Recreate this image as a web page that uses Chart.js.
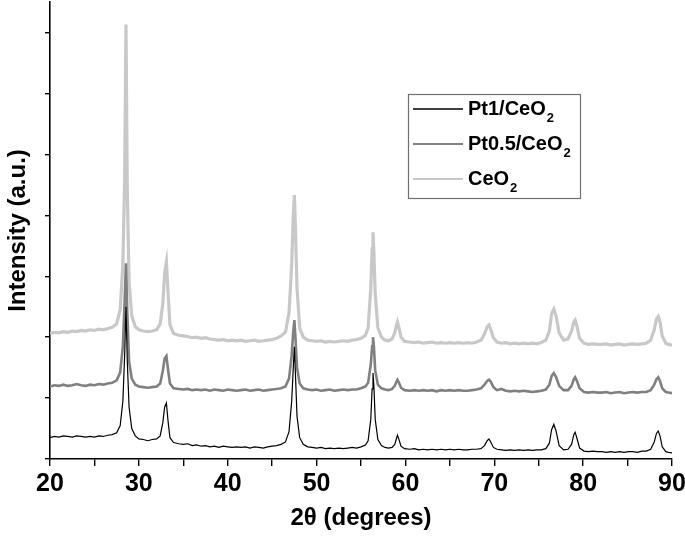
<!DOCTYPE html>
<html>
<head>
<meta charset="utf-8">
<script src="https://cdn.jsdelivr.net/npm/chart.js@4.4.1/dist/chart.umd.min.js"></script>
<style>
  html, body { margin: 0; padding: 0; background: #ffffff; }
  #wrap { width: 685px; height: 537px; position: relative; }
</style>
</head>
<body>
<div id="wrap"><canvas id="c" width="685" height="537"></canvas></div>
<script>
// 2-theta angles (degrees), shared by all three patterns
const angles = [
  20, 20.5, 21, 21.5, 22, 22.5, 23, 23.5, 24, 24.5,
  25, 25.5, 26, 26.5, 27, 27.5, 27.9, 28.2, 28.4, 28.55,
  28.7, 28.9, 29.2, 29.6, 30, 30.5, 31, 31.5, 32, 32.4,
  32.7, 32.9, 33.1, 33.3, 33.5, 33.9, 34.5, 35, 35.5, 36,
  36.5, 37, 37.5, 38, 38.5, 39, 39.5, 40, 40.5, 41,
  41.5, 42, 42.5, 43, 43.5, 44, 44.5, 45, 45.5, 46,
  46.5, 46.9, 47.2, 47.38, 47.5, 47.62, 47.8, 48.1, 48.5, 49,
  49.5, 50, 50.5, 51, 51.5, 52, 52.5, 53, 53.5, 54,
  54.5, 55, 55.5, 55.8, 56.1, 56.25, 56.35, 56.45, 56.6, 56.9,
  57.3, 57.7, 58.1, 58.5, 58.8, 59.0, 59.1, 59.25, 59.5, 59.9,
  60.5, 61, 61.5, 62, 62.5, 63, 63.5, 64, 64.5, 65,
  65.5, 66, 66.5, 67, 67.5, 68, 68.5, 68.9, 69.2, 69.4,
  69.6, 69.9, 70.3, 70.8, 71.3, 71.8, 72.3, 72.8, 73.3, 73.8,
  74.3, 74.8, 75.3, 75.8, 76.2, 76.45, 76.7, 76.95, 77.3, 77.8,
  78.3, 78.7, 78.95, 79.1, 79.3, 79.6, 80.1, 80.6, 81.1, 81.6,
  82.1, 82.6, 83.1, 83.6, 84.1, 84.6, 85.1, 85.6, 86.1, 86.6,
  87.1, 87.6, 88.0, 88.25, 88.45, 88.65, 88.9, 89.3, 89.6, 90
];

// Pt1/CeO2 (black)
const pt1 = [
  0.35, 0.37, 0.36, 0.38, 0.37, 0.36, 0.38, 0.37, 0.36, 0.37,
  0.36, 0.38, 0.37, 0.39, 0.40, 0.43, 0.55, 0.95, 1.70, 2.50,
  1.60, 0.85, 0.50, 0.38, 0.33, 0.32, 0.30, 0.32, 0.33, 0.38,
  0.60, 0.85, 0.92, 0.60, 0.35, 0.27, 0.25, 0.24, 0.25, 0.22,
  0.23, 0.21, 0.22, 0.20, 0.21, 0.19, 0.21, 0.20, 0.19, 0.20,
  0.19, 0.20, 0.18, 0.20, 0.19, 0.18, 0.20, 0.21, 0.22, 0.24,
  0.28, 0.45, 0.95, 1.50, 1.84, 1.40, 0.70, 0.35, 0.24, 0.20,
  0.19, 0.18, 0.19, 0.17, 0.18, 0.17, 0.18, 0.17, 0.18, 0.19,
  0.18, 0.20, 0.23, 0.30, 0.65, 1.15, 1.41, 1.20, 0.65, 0.32,
  0.22, 0.19, 0.18, 0.19, 0.24, 0.34, 0.39, 0.33, 0.21, 0.17,
  0.16, 0.17, 0.15, 0.16, 0.15, 0.16, 0.15, 0.16, 0.15, 0.16,
  0.15, 0.16, 0.15, 0.15, 0.16, 0.16, 0.17, 0.22, 0.30, 0.33,
  0.28, 0.19, 0.16, 0.15, 0.14, 0.15, 0.14, 0.15, 0.14, 0.15,
  0.14, 0.15, 0.15, 0.17, 0.26, 0.48, 0.57, 0.46, 0.22, 0.15,
  0.16, 0.24, 0.40, 0.44, 0.34, 0.18, 0.13, 0.12, 0.13, 0.12,
  0.12, 0.11, 0.12, 0.11, 0.12, 0.11, 0.12, 0.12, 0.11, 0.13,
  0.13, 0.16, 0.28, 0.42, 0.46, 0.38, 0.20, 0.12, 0.11, 0.10
];

// Pt0.5/CeO2 (dark grey)
const pt05 = [
  1.19, 1.21, 1.20, 1.22, 1.20, 1.21, 1.23, 1.21, 1.20, 1.22,
  1.21, 1.23, 1.22, 1.24, 1.25, 1.29, 1.42, 1.85, 2.60, 3.21,
  2.40, 1.60, 1.32, 1.22, 1.19, 1.18, 1.17, 1.18, 1.19, 1.24,
  1.45, 1.65, 1.69, 1.45, 1.24, 1.16, 1.15, 1.14, 1.15, 1.13,
  1.14, 1.13, 1.14, 1.12, 1.14, 1.13, 1.12, 1.14, 1.13, 1.12,
  1.13, 1.14, 1.12, 1.13, 1.14, 1.12, 1.13, 1.14, 1.15, 1.16,
  1.19, 1.32, 1.70, 2.10, 2.28, 2.00, 1.50, 1.24, 1.16, 1.14,
  1.13, 1.14, 1.12, 1.13, 1.14, 1.12, 1.13, 1.14, 1.13, 1.14,
  1.14, 1.16, 1.19, 1.25, 1.55, 1.85, 2.00, 1.85, 1.45, 1.22,
  1.16, 1.14, 1.13, 1.15, 1.20, 1.27, 1.30, 1.26, 1.17, 1.13,
  1.12, 1.13, 1.12, 1.13, 1.12, 1.13, 1.11, 1.13, 1.12, 1.13,
  1.12, 1.13, 1.12, 1.12, 1.13, 1.14, 1.16, 1.22, 1.28, 1.30,
  1.27, 1.18, 1.13, 1.15, 1.12, 1.11, 1.12, 1.11, 1.12, 1.11,
  1.10, 1.11, 1.12, 1.14, 1.22, 1.36, 1.41, 1.35, 1.20, 1.13,
  1.13, 1.20, 1.31, 1.34, 1.28, 1.16, 1.10, 1.09, 1.10, 1.09,
  1.09, 1.10, 1.08, 1.09, 1.10, 1.08, 1.09, 1.10, 1.09, 1.10,
  1.10, 1.13, 1.22, 1.31, 1.34, 1.28, 1.16, 1.10, 1.09, 1.08
];

// CeO2 (light grey)
const ceo2 = [
  2.06, 2.08, 2.07, 2.09, 2.08, 2.10, 2.09, 2.11, 2.10, 2.12,
  2.11, 2.13, 2.12, 2.14, 2.16, 2.22, 2.45, 3.20, 4.60, 7.13,
  4.40, 2.90, 2.35, 2.17, 2.12, 2.10, 2.09, 2.10, 2.12, 2.22,
  2.55, 3.05, 3.23, 2.70, 2.20, 2.06, 2.03, 2.02, 2.01, 1.99,
  2.00, 1.98, 1.99, 1.97, 1.96, 1.95, 1.96, 1.94, 1.95, 1.94,
  1.95, 1.93, 1.94, 1.95, 1.93, 1.94, 1.95, 1.96, 1.98, 2.02,
  2.08, 2.40, 3.20, 4.00, 4.33, 3.80, 2.80, 2.15, 2.00, 1.95,
  1.94, 1.93, 1.94, 1.92, 1.93, 1.92, 1.93, 1.94, 1.93, 1.95,
  1.96, 1.98, 2.03, 2.15, 2.80, 3.45, 3.72, 3.40, 2.70, 2.15,
  2.00, 1.95, 1.94, 1.97, 2.07, 2.20, 2.25, 2.17, 2.00, 1.93,
  1.92, 1.91, 1.92, 1.90, 1.91, 1.92, 1.90, 1.91, 1.90, 1.91,
  1.90, 1.91, 1.90, 1.91, 1.90, 1.92, 1.95, 2.05, 2.17, 2.20,
  2.13, 1.99, 1.92, 1.90, 1.91, 1.89, 1.90, 1.89, 1.90, 1.89,
  1.90, 1.89, 1.91, 1.95, 2.10, 2.38, 2.46, 2.35, 2.07, 1.95,
  1.97, 2.10, 2.25, 2.28, 2.18, 1.98, 1.90, 1.88, 1.89, 1.88,
  1.88, 1.89, 1.87, 1.88, 1.89, 1.87, 1.88, 1.89, 1.88, 1.89,
  1.90, 1.95, 2.12, 2.30, 2.34, 2.25, 2.02, 1.90, 1.88, 1.87
];

const seriesNames = ['Pt1/CeO', 'Pt0.5/CeO', 'CeO'];   // each followed by subscript "2"
const seriesColors = ['#000000', '#808080', '#c8c8c8'];
const seriesWidths = [1.2, 2.6, 3.2];
const legendWidths = [1.6, 2.2, 2.2];
const xTickLabels = [20, 30, 40, 50, 60, 70, 80, 90];

const seriesValues = [pt1, pt05, ceo2];
const datasets = seriesValues.map((vals, k) => ({
  label: seriesNames[k] + '2',
  data: angles.map((a, i) => ({ x: a, y: vals[i] })),
  borderColor: seriesColors[k],
  backgroundColor: seriesColors[k],
  borderWidth: seriesWidths[k],
  pointRadius: 0,
  tension: 0,
  fill: false
}));

// custom legend with subscripts
const legendPlugin = {
  id: 'subLegend',
  afterDraw(chart) {
    const ctx = chart.ctx;
    const bx = 408, by = 94, bw = 172, bh = 104;
    ctx.save();
    ctx.fillStyle = '#ffffff';
    ctx.fillRect(bx, by, bw, bh);
    ctx.strokeStyle = '#707070';
    ctx.lineWidth = 1.2;
    ctx.strokeRect(bx + 0.5, by + 0.5, bw, bh);
    const rows = [109, 144, 179];
    seriesNames.forEach((name, k) => {
      const y = rows[k];
      ctx.strokeStyle = seriesColors[k];
      ctx.lineWidth = legendWidths[k];
      ctx.beginPath();
      ctx.moveTo(413, y);
      ctx.lineTo(463, y);
      ctx.stroke();
      ctx.fillStyle = '#000000';
      ctx.textBaseline = 'middle';
      ctx.textAlign = 'left';
      ctx.font = 'bold 20px "Liberation Sans", Arial, sans-serif';
      ctx.fillText(name, 468, y);
      const w = ctx.measureText(name).width;
      ctx.font = 'bold 13px "Liberation Sans", Arial, sans-serif';
      ctx.fillText('2', 468 + w + 1, y + 9);
    });
    ctx.restore();
  }
};

new Chart(document.getElementById('c'), {
  type: 'line',
  data: { datasets },
  options: {
    responsive: false,
    animation: false,
    events: [],
    layout: { padding: { left: 0, right: 13, top: 2, bottom: 0 } },
    plugins: { legend: { display: false }, tooltip: { enabled: false } },
    scales: {
      x: {
        type: 'linear',
        min: 20, max: 90,
        afterFit(scale) { scale.height = 78; scale.paddingRight = 0; scale.paddingLeft = 0; },
        border: { display: true, color: '#000', width: 1.6 },
        grid: { drawOnChartArea: false, drawTicks: true, tickLength: 7, color: '#000', lineWidth: 1.4 },
        ticks: {
          stepSize: 5,
          includeBounds: false,
          color: '#000',
          padding: 3,
          maxRotation: 0,
          autoSkip: false,
          font: { family: '"Liberation Sans Narrow", "Liberation Sans", Arial', weight: 'bold', size: 25 },
          callback: (v) => xTickLabels.includes(v) ? String(v) : ''
        },
        title: {
          display: true,
          text: '2θ (degrees)',
          color: '#000',
          font: { family: '"Liberation Sans", Arial', weight: 'bold', size: 24 },
          padding: { top: 0, bottom: 4 }
        }
      },
      y: {
        min: 0, max: 7.5,
        afterFit(scale) { scale.width = 50; },
        border: { display: true, color: '#000', width: 1.6 },
        grid: { drawOnChartArea: false, drawTicks: true, tickLength: 5, color: '#000', lineWidth: 1.4 },
        ticks: {
          stepSize: 1,
          includeBounds: false,
          callback: () => '',
          font: { size: 1 },
          padding: 0
        },
        title: {
          display: true,
          text: 'Intensity (a.u.)',
          color: '#000',
          font: { family: '"Liberation Sans", Arial', weight: 'bold', size: 24 },
          padding: { top: 4, bottom: 0 }
        }
      }
    }
  },
  plugins: [legendPlugin]
});
</script>
</body>
</html>
